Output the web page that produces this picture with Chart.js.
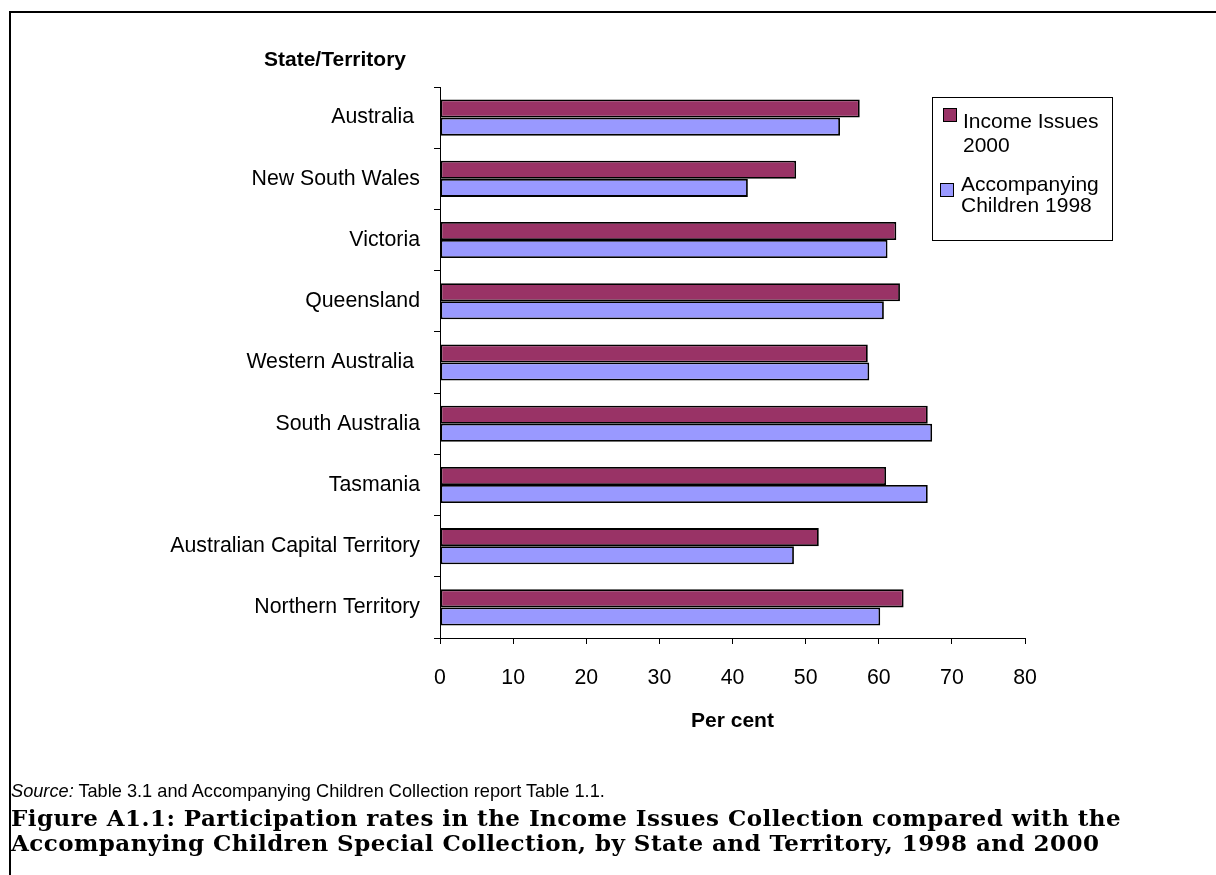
<!DOCTYPE html>
<html>
<head>
<meta charset="utf-8">
<script src="https://cdn.jsdelivr.net/npm/chart.js@4.4.1/dist/chart.umd.min.js"></script>
<style>
  html, body { margin: 0; padding: 0; background: #fff; }
  body { width: 1216px; height: 875px; position: relative; overflow: hidden; font-family: "Liberation Sans", Arial, sans-serif; color: #000; }
  #frame { position: absolute; left: 9px; top: 11px; width: 1210px; height: 900px; border-left: 2.5px solid #000; border-top: 2.5px solid #000; }
  #wrap { position: absolute; left: 0; top: 0; width: 1216px; height: 875px; }
  #yTitle { position: absolute; left: 264px; top: 47px; font-weight: bold; font-size: 21px; }
  #legend { position: absolute; left: 932px; top: 97px; width: 181px; height: 144px; border: 1px solid #000; box-sizing: border-box; font-size: 21px; }
  .item { position: absolute; }
  .sw { position: absolute; width: 12px; height: 12px; border: 1.5px solid #000; }
  #source { position: absolute; left: 11px; top: 781px; font-size: 18.2px; }
  #caption { position: absolute; left: 11px; top: 805px; font-family: "DejaVu Serif", serif; font-weight: bold; font-size: 23px; line-height: 25px; letter-spacing: 0.45px; }
</style>
</head>
<body>
<div id="frame"></div>
<div id="wrap"><canvas id="chart"></canvas></div>
<div id="yTitle">State/Territory</div>
<div id="legend"></div>
<div id="source"><i>Source:</i> Table 3.1 and Accompanying Children Collection report Table 1.1.</div>
<div id="caption">Figure A1.1: Participation rates in the Income Issues Collection compared with the<br>Accompanying Children Special Collection, by State and Territory, 1998 and 2000</div>
<script>
// categories, top to bottom
let states = ["Australia ", "New South Wales", "Victoria", "Queensland", "Western Australia ",
              "South Australia", "Tasmania", "Australian Capital Territory", "Northern Territory"];

// per cent participation
let income2000 = [57.4, 48.7, 62.4, 62.9, 58.5, 66.7, 61.0, 51.8, 63.4];
let children1998 = [54.7, 42.1, 61.2, 60.7, 58.7, 67.3, 66.7, 48.4, 60.2];

let seriesNames = [["Income Issues", "2000"], ["Accompanying", "Children 1998"]];
let seriesColors = ["#993366", "#9999FF"];

// legend built by hand so the names can wrap like the original
let legend = document.getElementById("legend");
let legendPos = [{sw: [10, 10], tx: [30, 11], lh: 24}, {sw: [7, 85], tx: [28, 75], lh: 21}];
seriesNames.forEach((name, i) => {
    let sw = document.createElement("div");
    sw.className = "sw";
    sw.style.left = legendPos[i].sw[0] + "px";
    sw.style.top = legendPos[i].sw[1] + "px";
    sw.style.background = seriesColors[i];
    legend.appendChild(sw);

    let tx = document.createElement("div");
    tx.className = "item";
    tx.style.left = legendPos[i].tx[0] + "px";
    tx.style.top = legendPos[i].tx[1] + "px";
    tx.style.lineHeight = legendPos[i].lh + "px";
    tx.innerHTML = name.join("<br>");
    legend.appendChild(tx);
});

let font = {family: "'Liberation Sans', Arial, sans-serif", size: 21.3};

let context = document.getElementById("chart").getContext("2d");
let chart = new Chart(context, {
    type: "bar",
    data: {
        labels: states,
        datasets: [
            {label: seriesNames[0].join(" "), data: income2000, backgroundColor: seriesColors[0]},
            {label: seriesNames[1].join(" "), data: children1998, backgroundColor: seriesColors[1]}
        ]
    },
    options: {
        indexAxis: "y",
        responsive: true,
        maintainAspectRatio: false,
        animation: false,
        events: [],
        layout: {padding: {top: 87, right: 191, left: 0, bottom: 0}},
        datasets: {
            bar: {
                categoryPercentage: 0.59,
                barPercentage: 1.0,
                borderColor: "#000",
                borderWidth: 1.8,
                borderSkipped: false
            }
        },
        plugins: {
            legend: {display: false},
            tooltip: {enabled: false}
        },
        scales: {
            x: {
                min: 0,
                max: 80,
                ticks: {stepSize: 10, color: "#000", font: font, padding: 21, maxRotation: 0},
                grid: {drawOnChartArea: false, color: "#000", tickLength: 6},
                border: {color: "#000", width: 1},
                title: {display: true, text: "Per cent", color: "#000",
                        font: {family: font.family, size: 21, weight: "bold"},
                        padding: {top: 0, bottom: 141}},
                afterFit: s => { s.height = 875 - 638; }
            },
            y: {
                ticks: {color: "#000", font: font, padding: 14},
                grid: {drawOnChartArea: false, color: "#000", tickLength: 6, offset: true},
                border: {color: "#000", width: 1},
                afterFit: s => { s.width = 440; }
            }
        }
    }
});
</script>
</body>
</html>
